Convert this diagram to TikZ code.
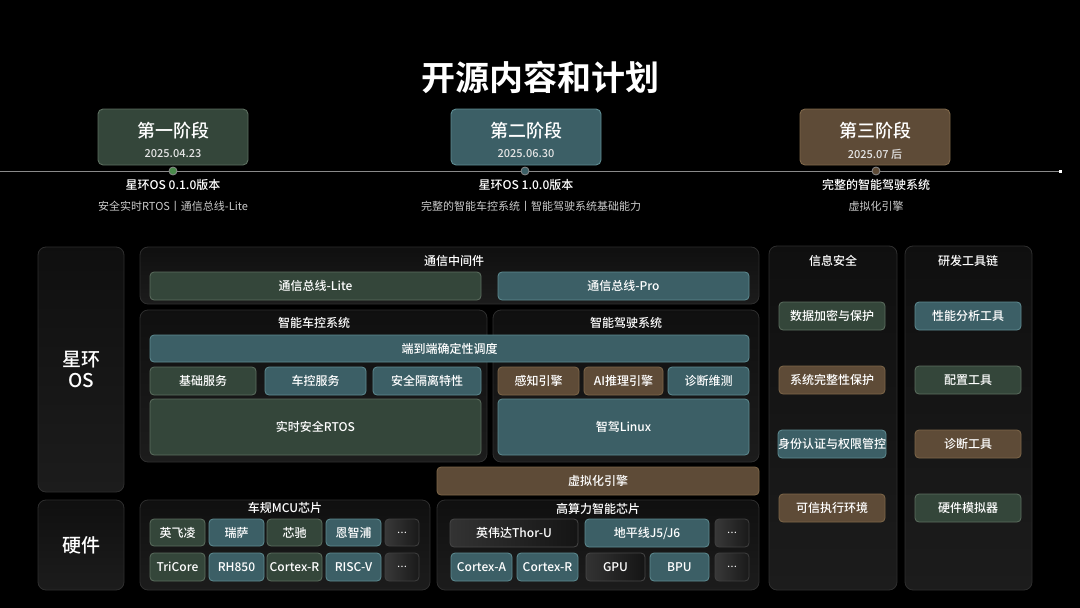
\documentclass[tikz,border=0pt]{standalone}
\usepackage{fontspec}
\newfontfamily\cjk{Noto Sans CJK SC}[BoldFont={Noto Sans CJK SC Bold}]
\newfontfamily\cjkm{Noto Sans CJK SC Medium}
\definecolor{Gf}{HTML}{34463A}
\definecolor{Gd}{HTML}{5C6E5F}
\definecolor{Tf}{HTML}{3C5F66}
\definecolor{Td}{HTML}{5E8C92}
\definecolor{Bf}{HTML}{5E4B37}
\definecolor{Bd}{HTML}{7E6749}
\definecolor{Cd}{HTML}{2E2E2E}
\definecolor{Ln}{HTML}{8A8A8A}
\newcommand\bx[7]{\node[#1,minimum width={#4-#2},minimum height={#5-#3}] (#6) at ({(#2+#4)/2},{(#3+#5)/2}) {#7};}
\newcommand\ddd{{\fontsize{9}{10}\selectfont …}}
\tikzset{
  base/.style={rounded corners=4pt,draw,line width=0.8pt,text=white,inner sep=0pt,
    font=\cjkm\fontsize{12}{14}\selectfont},
  gbox/.style={base,fill=Gf,draw=Gd},
  tbox/.style={base,fill=Tf,draw=Td},
  bbox/.style={base,fill=Bf,draw=Bd},
  dbox/.style={base,draw=black!75!white,left color=black!78!white,right color=black!90!white},
  mbox/.style={base,draw=black!72!white,left color=black!80!white,right color=black!92!white},
  cont/.style={rounded corners=8pt,draw=Cd,line width=0.8pt,top color=black!94!white,bottom color=black!89!white,inner sep=0pt},
  ctitle/.style={text=white,font=\cjkm\fontsize{12}{14}\selectfont,inner sep=0pt},
  stage/.style={rounded corners=5pt,line width=0.9pt,inner sep=0pt,minimum width=150pt,minimum height=56pt},
  stitle/.style={text=white,font=\cjkm\fontsize{18}{20}\selectfont,inner sep=0pt},
  sdate/.style={text=white!90!black,font=\cjkm\fontsize{11}{13}\selectfont,inner sep=0pt},
  vline/.style={text=white,font=\cjkm\fontsize{12}{14}\selectfont,inner sep=0pt},
  vsub/.style={text=white!80!black,font=\cjk\fontsize{11}{13}\selectfont,inner sep=0pt},
  dot/.style={circle,inner sep=0pt,minimum size=8pt,line width=0.8pt,draw=Ln}
}
\begin{document}
\begin{tikzpicture}[x=1pt,y=-1pt]
\fill[black] (0,0) rectangle (1080,608);
\useasboundingbox (0,0) rectangle (1080,608);

% title
\node[text=white,font=\cjk\bfseries\fontsize{34}{38}\selectfont,inner sep=0pt] (title) at (540,77) {开源内容和计划};

% timeline
\coordinate (tl0) at (0,171);
\coordinate (tl1) at (1060,171);
\draw[Ln,line width=1pt] (tl0) -- (tl1);
\node[fill=white,inner sep=0pt,minimum size=3pt] (tlend) at (tl1) {};

% stages
\node[stage,fill=Gf,draw=Gd] (s1) at (173,137) {};
\node[stage,fill=Tf,draw=Td] (s2) at (526,137) {};
\node[stage,fill=Bf,draw=Bd] (s3) at (875,137) {};
\node[stitle] (s1t) at (173,131) {第一阶段};
\node[sdate] (s1d) at (173,154) {2025.04.23};
\node[stitle] (s2t) at (526,131) {第二阶段};
\node[sdate] (s2d) at (526,154) {2025.06.30};
\node[stitle] (s3t) at (875,131) {第三阶段};
\node[sdate] (s3d) at (875,154) {2025.07 后};

\node[dot,fill=Gd!80!green] (d1) at (173,171) {};
\node[dot,fill=Tf] (d2) at (525,171) {};
\node[dot,fill=Bf] (d3) at (876,171) {};

\node[vline] (v1a) at (173,185) {星环OS 0.1.0版本};
\node[vsub] (v1b) at (173,206) {安全实时RTOS丨通信总线-Lite};
\node[vline] (v2a) at (526,185) {星环OS 1.0.0版本};
\node[vsub] (v2b) at (531,206) {完整的智能车控系统丨智能驾驶系统基础能力};
\node[vline] (v3a) at (876,185) {完整的智能驾驶系统};
\node[vsub] (v3b) at (876,206) {虚拟化引擎};

% containers
\bx{cont}{38}{247}{124}{492}{os}{}
\bx{cont}{38}{500}{124}{590}{hw}{}
\bx{cont}{140}{247}{759}{304}{mid}{}
\bx{cont}{140}{310}{487}{462}{vc}{}
\bx{cont}{493}{310}{759}{462}{ad}{}
\bx{cont}{140}{500}{430}{590}{mcu}{}
\bx{cont}{437}{500}{759}{590}{soc}{}
\bx{cont}{769}{246}{897}{590}{sec}{}
\bx{cont}{905}{246}{1032}{590}{dev}{}

\node[text=white,font=\cjkm\fontsize{19}{22}\selectfont,align=center,inner sep=0pt] (ost) at (os.center) {星环\\[-1pt]OS};
\node[text=white,font=\cjkm\fontsize{19}{22}\selectfont,inner sep=0pt] (hwt) at (hw.center) {硬件};

\node[ctitle] (midt) at (454,261) {通信中间件};
\node[ctitle] (vct) at (314,323) {智能车控系统};
\node[ctitle] (adt) at (626,323) {智能驾驶系统};
\node[ctitle] (mcut) at (285,508) {车规MCU芯片};
\node[ctitle] (soct) at (598,509) {高算力智能芯片};
\node[ctitle] (sect) at (833,261) {信息安全};
\node[ctitle] (devt) at (968,261) {研发工具链};

% middleware
\bx{gbox}{150}{272}{481}{300}{lite}{通信总线-Lite}
\bx{tbox}{498}{272}{749}{300}{pro}{通信总线-Pro}

% vehicle control / autonomous driving
\bx{tbox}{150}{335}{749}{362}{sched}{端到端确定性调度}
\bx{gbox}{150}{367}{256}{395}{basic}{基础服务}
\bx{tbox}{265}{367}{366}{395}{vcs}{车控服务}
\bx{tbox}{373}{367}{481}{395}{iso}{安全隔离特性}
\bx{gbox}{150}{399}{481}{455}{rtos}{实时安全RTOS}
\bx{bbox}{498}{367}{579}{395}{perc}{感知引擎}
\bx{bbox}{584}{367}{663}{395}{ai}{AI推理引擎}
\bx{tbox}{668}{367}{749}{395}{diag}{诊断维测}
\bx{tbox}{498}{399}{749}{455}{linux}{智驾Linux}
\bx{bbox}{437}{467}{759}{495}{virt}{虚拟化引擎}

% MCU
\bx{gbox}{150}{519}{205}{546}{m1}{英飞凌}
\bx{tbox}{209}{519}{264}{546}{m2}{瑞萨}
\bx{gbox}{267}{519}{322}{546}{m3}{芯驰}
\bx{tbox}{326}{519}{381}{546}{m4}{恩智浦}
\bx{dbox}{385}{519}{419}{546}{m5}{\ddd}
\bx{gbox}{150}{553}{205}{581}{n1}{TriCore}
\bx{tbox}{209}{553}{264}{581}{n2}{RH850}
\bx{gbox}{267}{553}{322}{581}{n3}{Cortex-R}
\bx{tbox}{326}{553}{381}{581}{n4}{RISC-V}
\bx{dbox}{385}{553}{419}{581}{n5}{\ddd}

% SoC
\bx{mbox}{450}{519}{578}{547}{thor}{英伟达Thor-U}
\bx{tbox}{585}{519}{709}{547}{hor}{地平线J5/J6}
\bx{dbox}{715}{519}{749}{547}{p5}{\ddd}
\bx{tbox}{451}{553}{512}{581}{ca}{Cortex-A}
\bx{tbox}{517}{553}{578}{581}{cr}{Cortex-R}
\bx{mbox}{586}{553}{645}{581}{gpu}{GPU}
\bx{tbox}{650}{553}{709}{581}{bpu}{BPU}
\bx{dbox}{715}{553}{749}{581}{q5}{\ddd}

% security
\bx{gbox}{779}{302}{885}{330}{sc1}{数据加密与保护}
\bx{bbox}{779}{366}{885}{394}{sc2}{系统完整性保护}
\bx{tbox}{779}{430}{885}{458}{sc3}{身份认证与权限管控}
\bx{bbox}{779}{494}{885}{522}{sc4}{可信执行环境}

% toolchain
\bx{tbox}{915}{302}{1021}{330}{tc1}{性能分析工具}
\bx{gbox}{915}{366}{1021}{394}{tc2}{配置工具}
\bx{bbox}{915}{430}{1021}{458}{tc3}{诊断工具}
\bx{gbox}{915}{494}{1021}{522}{tc4}{硬件模拟器}
\end{tikzpicture}
\end{document}
